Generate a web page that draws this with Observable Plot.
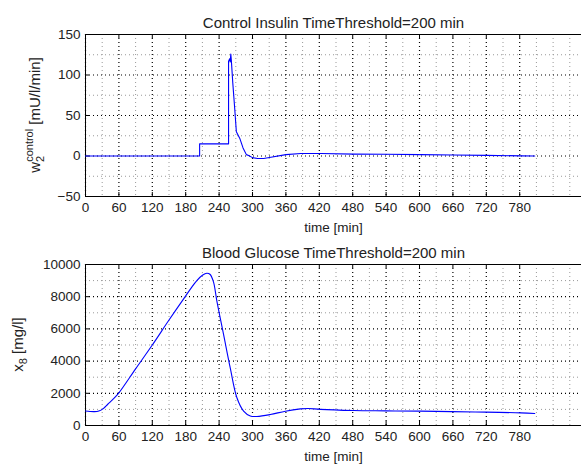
<!DOCTYPE html>
<html><head><meta charset="utf-8">
<script src="https://cdn.jsdelivr.net/npm/d3@7"></script>
<script src="https://cdn.jsdelivr.net/npm/@observablehq/plot@0.6"></script>
<style>
body{margin:0;background:#fff;}
#chart{width:581px;height:466px;overflow:hidden;}
svg{display:block;}
</style></head><body><div id="chart"></div>
<script>
const insulinTime  = [0, 205, 205, 257, 257, 259, 260, 261, 262, 264.6, 268, 271, 277, 283, 289, 293, 300, 309, 320, 333, 360, 387, 423, 482, 540, 602, 660, 720, 782, 807];
const insulinValue = [0, 0, 15, 15, 117, 120, 116, 126, 118, 90, 59, 30, 22, 10, 1.7, 0.5, -2, -3, -3, -1.5, 1.7, 3, 3, 2.3, 2.2, 1.7, 1.3, 0.8, 0.2, 0];
const glucoseTime  = [0, 8, 16, 24, 32, 40, 50, 60, 90, 120, 150, 180, 190, 200, 210, 218, 224, 230, 236, 248, 260, 272, 284, 296, 308, 332, 359, 386, 400, 422, 482, 540, 602, 700, 782, 807];
const glucoseValue = [900, 870, 860, 900, 1050, 1320, 1650, 2030, 3520, 5000, 6550, 8050, 8550, 9000, 9330, 9460, 9380, 8900, 7730, 5660, 3580, 1720, 890, 590, 560, 680, 890, 1030, 1060, 1000, 930, 910, 890, 840, 785, 745];
const xTicks = [0, 60, 120, 180, 240, 300, 360, 420, 480, 540, 600, 660, 720, 780];
const xMinor = [30, 90, 150, 210, 270, 330, 390, 450, 510, 570, 630, 690, 750, 810, 840, 870];
const insulinYTicks = [-50, 0, 50, 100, 150];
const insulinYMinor = [-25, 25, 75, 125];
const glucoseYTicks = [0, 2000, 4000, 6000, 8000, 10000];
const glucoseYMinor = [1000, 3000, 5000, 7000, 9000];
const titles = ["Control Insulin TimeThreshold=200 min", "Blood Glucose TimeThreshold=200 min"];
const xLabel = "time [min]";

const insulin = insulinTime.map((t, i) => ({t, v: insulinValue[i]}));
const glucose = glucoseTime.map((t, i) => ({t, v: glucoseValue[i]}));

const W = 581, ML = 85, MR = 0;
const FONT = "'Liberation Sans', Arial, Helvetica, sans-serif";

function panel({data, yDomain, yTicks, yMinor, title, height, marginTop, marginBottom, curve}) {
  const fh = height - marginTop - marginBottom;
  const fw = W - ML - MR;
  const dot = {strokeDasharray: "1,3", strokeWidth: 1};
  return Plot.plot({
    width: W, height,
    marginLeft: ML, marginRight: MR, marginTop, marginBottom,
    style: {fontFamily: FONT, fontSize: "13.5px", color: "#222", background: "#fff"},
    x: {domain: [0, 891], ticks: xTicks, tickSize: 0, tickPadding: 6, label: null, tickFormat: d => String(d)},
    y: {domain: yDomain, ticks: yTicks, tickSize: 0, tickPadding: 5, label: null, tickFormat: d => d < 0 ? "\u2212" + Math.abs(d) : String(d)},
    marks: [
      Plot.ruleY(yMinor, {...dot, stroke: "#999"}),
      Plot.ruleX(xMinor, {...dot, stroke: "#999"}),
      Plot.ruleY(yTicks, {...dot, stroke: "#000", strokeWidth: 1.2}),
      Plot.ruleX(xTicks, {...dot, stroke: "#000", strokeWidth: 1.2}),
      Plot.tickX(xTicks, {x: d => d, insetTop: fh - 4, stroke: "#000"}),
      Plot.tickX(xTicks, {x: d => d, insetBottom: fh - 4, stroke: "#000"}),
      Plot.tickY(yTicks, {y: d => d, insetRight: fw - 4, stroke: "#000"}),
      Plot.ruleY([yDomain[0]], {stroke: "#000", strokeWidth: 1}),
      Plot.ruleY([yDomain[1]], {stroke: "#000", strokeWidth: 1}),
      Plot.ruleX([0], {stroke: "#000", strokeWidth: 1}),
      Plot.line(data, {x: "t", y: "v", stroke: "#0000ff", strokeWidth: 1.1, curve}),
      Plot.text([title], {text: d => d, frameAnchor: "top", dy: -7, lineAnchor: "bottom", fontSize: 15, fill: "#222"}),
      Plot.text([xLabel], {text: d => d, frameAnchor: "bottom", dy: 26, lineAnchor: "top", fontSize: 13.5, fill: "#222"})
    ]
  });
}

const topPanel = panel({data: insulin, yDomain: [-50, 150], yTicks: insulinYTicks, yMinor: insulinYMinor,
  title: titles[0], height: 241, marginTop: 34, marginBottom: 45, curve: "linear"});
const botPanel = panel({data: glucose, yDomain: [0, 10000], yTicks: glucoseYTicks, yMinor: glucoseYMinor,
  title: titles[1], height: 225, marginTop: 23, marginBottom: 41, curve: "catmull-rom"});

const chart = document.getElementById("chart");
chart.appendChild(topPanel);
chart.appendChild(botPanel);

// y labels with sub/superscripts
const t1 = d3.select(topPanel).append("text")
  .attr("transform", "translate(40,115) rotate(-90)")
  .attr("text-anchor", "middle").attr("fill", "#222")
  .attr("font-family", FONT).attr("font-size", 15);
t1.append("tspan").text("w");
t1.append("tspan").attr("font-size", 11).attr("dy", 4).text("2");
t1.append("tspan").attr("font-size", 11).attr("dx", -6).attr("dy", -11).text("control");
t1.append("tspan").attr("dy", 7).text(" [mU/l/min]");

const t2 = d3.select(botPanel).append("text")
  .attr("transform", "translate(23,103.5) rotate(-90)")
  .attr("text-anchor", "middle").attr("fill", "#222")
  .attr("font-family", FONT).attr("font-size", 15);
t2.append("tspan").text("x");
t2.append("tspan").attr("font-size", 11).attr("dy", 4).text("8");
t2.append("tspan").attr("dy", -4).text(" [mg/l]");
</script></body></html>
